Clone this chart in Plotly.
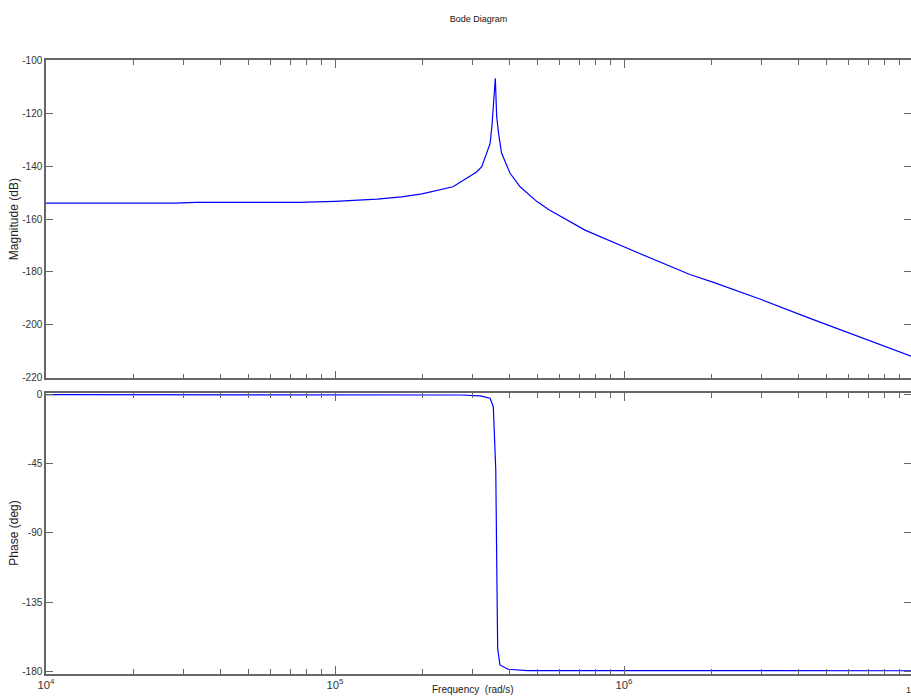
import plotly.graph_objects as go
from plotly.subplots import make_subplots

# ---- data ----
mag_freq = [1.0e4, 2.8e4, 3.3e4, 7.5e4, 1.0e5, 1.4e5, 1.7e5, 2.0e5, 2.56e5, 3.09e5,
            3.22e5, 3.44e5, 3.494e5, 3.55e5, 3.587e5, 3.626e5, 3.68e5, 3.77e5, 4.03e5,
            4.37e5, 5.0e5, 5.5e5, 7.33e5, 1.107e6, 1.69e6, 2.04e6, 2.95e6, 4.4e6,
            6.92e6, 9.85e6]
mag_db = [-154.0, -154.0, -153.7, -153.7, -153.3, -152.5, -151.6, -150.5, -147.8, -142.2,
          -140.2, -131.5, -124.4, -114.9, -106.7, -121.2, -127.5, -135.0, -142.6,
          -147.8, -153.4, -156.5, -164.2, -172.6, -181.0, -184.0, -190.3, -197.6,
          -205.6, -211.9]

ph_freq = [1.0e4, 2.71e5, 3.18e5, 3.44e5, 3.53e5, 3.60e5, 3.63e5, 3.655e5, 3.72e5,
           3.97e5, 4.62e5, 9.85e6]
ph_deg = [-0.2, -0.4, -1.0, -2.5, -8.0, -49.0, -114.0, -165.0, -175.7,
          -178.5, -179.4, -179.5]

mag_ticks = [-100, -120, -140, -160, -180, -200, -220]
ph_ticks = [0, -45, -90, -135, -180]

title_text = "Bode Diagram"
xlabel = "Frequency  (rad/s)"
ylabel_mag = "Magnitude (dB)"
ylabel_ph = "Phase (deg)"

# ---- figure (page body margin removed via post_script) ----
W, H = 911, 698
L, R, T, B = 46, 0, 60, 24
PW = W - L - R
plot_h = H - T - B
top_dom = [(674 - 378.3) / plot_h, 1.0]
bot_dom = [0.0, (674 - 393.3) / plot_h]

fig = make_subplots(rows=2, cols=1)
fig.add_trace(go.Scatter(x=mag_freq, y=mag_db, mode="lines",
                         line=dict(color="#0000ff", width=1.2), showlegend=False), row=1, col=1)
fig.add_trace(go.Scatter(x=ph_freq, y=ph_deg, mode="lines",
                         line=dict(color="#0000ff", width=1.2), showlegend=False), row=2, col=1)

axcol = "#666666"
FONT = "Liberation Sans, Arial, sans-serif"
tickfont = dict(family=FONT, size=10, color="#333333")
xrange = [4, 4 + PW / 289.0]

common_x = dict(type="log", range=xrange, showgrid=False, zeroline=False,
                showline=True, linecolor=axcol, linewidth=1.5, mirror="ticks",
                ticks="inside", ticklen=8, tickcolor=axcol, tickwidth=1, dtick=1,
                minor=dict(ticks="inside", ticklen=5, tickcolor=axcol, tickwidth=1, showgrid=False),
                exponentformat="power", tickfont=dict(family=FONT, size=9, color="#333333"))
common_y = dict(showgrid=False, zeroline=False, showline=True, linecolor=axcol, linewidth=1.5,
                mirror="ticks", ticks="inside", ticklen=7, tickcolor=axcol, tickwidth=1,
                tickfont=tickfont)

fig.update_layout(
    xaxis=dict(common_x, domain=[0, 1], anchor="y", showticklabels=False),
    yaxis=dict(common_y, domain=top_dom, range=[-220.3, -99.8],
               tickvals=mag_ticks, ticktext=[str(v) for v in mag_ticks]),
    xaxis2=dict(common_x, domain=[0, 1], anchor="y2", showticklabels=True),
    yaxis2=dict(common_y, domain=bot_dom, range=[-181.6, 0.7],
                tickvals=ph_ticks, ticktext=[str(v) for v in ph_ticks]),
    width=W, height=H,
    margin=dict(l=L, r=R, t=T, b=B, autoexpand=False),
    plot_bgcolor="white", paper_bgcolor="white",
    title=dict(text=title_text, x=478.5 / W, xanchor="center",
               y=1 - 19 / H, yanchor="middle",
               font=dict(family=FONT, size=9, color="#111111")),
)

ann_font = dict(family=FONT, size=12, color="#222222")
fig.add_annotation(text=ylabel_mag, xref="paper", yref="paper",
                   x=(14 - 46) / PW, y=(top_dom[0] + top_dom[1]) / 2,
                   textangle=-90, showarrow=False, xanchor="center", yanchor="middle", font=ann_font)
fig.add_annotation(text=ylabel_ph, xref="paper", yref="paper",
                   x=(14 - 46) / PW, y=(bot_dom[0] + bot_dom[1]) / 2,
                   textangle=-90, showarrow=False, xanchor="center", yanchor="middle", font=ann_font)
fig.add_annotation(text=xlabel, xref="paper", yref="paper",
                   x=(473 - 46) / PW, y=-(689 - 674) / plot_h,
                   showarrow=False, xanchor="center", yanchor="middle",
                   font=dict(family=FONT, size=10, color="#222222"))
fig.add_annotation(text="10<sup>7</sup>", xref="paper", yref="paper",
                   x=(913 - 46) / PW, y=-(689 - 674) / plot_h,
                   showarrow=False, xanchor="center", yanchor="middle",
                   font=dict(family=FONT, size=9, color="#333333"))

fig.write_html("out.html", config={"displayModeBar": False},
               post_script="document.body.style.margin='0';document.body.style.overflow='hidden';")
